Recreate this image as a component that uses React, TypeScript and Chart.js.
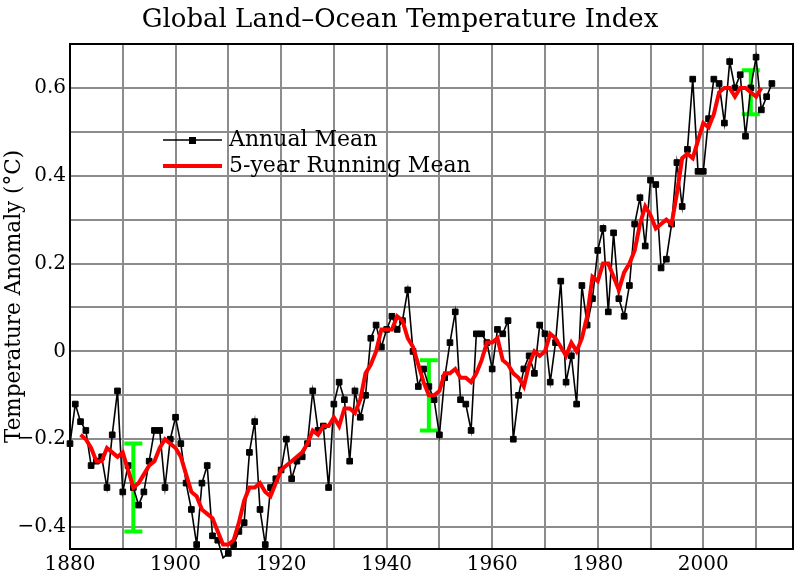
import React, { useEffect, useRef } from "react";
import { Chart, registerables } from "chart.js";

Chart.register(...registerables);

const FONT = "'DejaVu Serif', serif";

const chartTitle = "Global Land\u2013Ocean Temperature Index";
const yAxisTitle = "Temperature Anomaly (\u00b0C)";
const legendLabels = ["Annual Mean", "5-year Running Mean"];

const annualYears = [
  1880, 1881, 1882, 1883, 1884, 1885, 1886, 1887, 1888, 1889,
  1890, 1891, 1892, 1893, 1894, 1895, 1896, 1897, 1898, 1899,
  1900, 1901, 1902, 1903, 1904, 1905, 1906, 1907, 1908, 1909,
  1910, 1911, 1912, 1913, 1914, 1915, 1916, 1917, 1918, 1919,
  1920, 1921, 1922, 1923, 1924, 1925, 1926, 1927, 1928, 1929,
  1930, 1931, 1932, 1933, 1934, 1935, 1936, 1937, 1938, 1939,
  1940, 1941, 1942, 1943, 1944, 1945, 1946, 1947, 1948, 1949,
  1950, 1951, 1952, 1953, 1954, 1955, 1956, 1957, 1958, 1959,
  1960, 1961, 1962, 1963, 1964, 1965, 1966, 1967, 1968, 1969,
  1970, 1971, 1972, 1973, 1974, 1975, 1976, 1977, 1978, 1979,
  1980, 1981, 1982, 1983, 1984, 1985, 1986, 1987, 1988, 1989,
  1990, 1991, 1992, 1993, 1994, 1995, 1996, 1997, 1998, 1999,
  2000, 2001, 2002, 2003, 2004, 2005, 2006, 2007, 2008, 2009,
  2010, 2011, 2012, 2013,
];

const annualMean = [
  -0.21, -0.12, -0.16, -0.18, -0.26, -0.25, -0.24, -0.31, -0.19, -0.09,
  -0.32, -0.26, -0.31, -0.35, -0.32, -0.25, -0.18, -0.18, -0.31, -0.20,
  -0.15, -0.21, -0.30, -0.36, -0.44, -0.30, -0.26, -0.42, -0.43, -0.47,
  -0.46, -0.44, -0.41, -0.39, -0.23, -0.16, -0.36, -0.44, -0.31, -0.29,
  -0.27, -0.20, -0.29, -0.25, -0.24, -0.21, -0.09, -0.18, -0.17, -0.31,
  -0.12, -0.07, -0.11, -0.25, -0.09, -0.15, -0.10, 0.03, 0.06, 0.01,
  0.05, 0.08, 0.05, 0.07, 0.14, 0.00, -0.08, -0.04, -0.08, -0.11,
  -0.19, -0.06, 0.02, 0.09, -0.11, -0.12, -0.18, 0.04, 0.04, 0.02,
  -0.04, 0.05, 0.04, 0.07, -0.20, -0.10, -0.04, -0.01, -0.05, 0.06,
  0.04, -0.07, 0.02, 0.16, -0.07, -0.01, -0.12, 0.15, 0.06, 0.12,
  0.23, 0.28, 0.09, 0.27, 0.12, 0.08, 0.15, 0.29, 0.35, 0.24,
  0.39, 0.38, 0.19, 0.21, 0.29, 0.43, 0.33, 0.46, 0.62, 0.41,
  0.41, 0.53, 0.62, 0.61, 0.52, 0.66, 0.60, 0.63, 0.49, 0.60,
  0.67, 0.55, 0.58, 0.61,
];

const runningYears = [
  1882, 1883, 1884, 1885, 1886, 1887, 1888, 1889,
  1890, 1891, 1892, 1893, 1894, 1895, 1896, 1897, 1898, 1899,
  1900, 1901, 1902, 1903, 1904, 1905, 1906, 1907, 1908, 1909,
  1910, 1911, 1912, 1913, 1914, 1915, 1916, 1917, 1918, 1919,
  1920, 1921, 1922, 1923, 1924, 1925, 1926, 1927, 1928, 1929,
  1930, 1931, 1932, 1933, 1934, 1935, 1936, 1937, 1938, 1939,
  1940, 1941, 1942, 1943, 1944, 1945, 1946, 1947, 1948, 1949,
  1950, 1951, 1952, 1953, 1954, 1955, 1956, 1957, 1958, 1959,
  1960, 1961, 1962, 1963, 1964, 1965, 1966, 1967, 1968, 1969,
  1970, 1971, 1972, 1973, 1974, 1975, 1976, 1977, 1978, 1979,
  1980, 1981, 1982, 1983, 1984, 1985, 1986, 1987, 1988, 1989,
  1990, 1991, 1992, 1993, 1994, 1995, 1996, 1997, 1998, 1999,
  2000, 2001, 2002, 2003, 2004, 2005, 2006, 2007, 2008, 2009,
  2010, 2011,
];

const runningMean = [
  -0.19, -0.20, -0.22, -0.25, -0.25, -0.22, -0.23, -0.24,
  -0.23, -0.27, -0.31, -0.30, -0.28, -0.26, -0.25, -0.22, -0.20, -0.21,
  -0.22, -0.24, -0.28, -0.32, -0.33, -0.36, -0.37, -0.38, -0.41, -0.44,
  -0.44, -0.43, -0.39, -0.34, -0.31, -0.31, -0.30, -0.32, -0.33, -0.30,
  -0.27, -0.26, -0.25, -0.24, -0.23, -0.21, -0.18, -0.19, -0.17, -0.17,
  -0.15, -0.17, -0.13, -0.13, -0.14, -0.11, -0.05, -0.03, 0.00, 0.05,
  0.05, 0.05, 0.08, 0.07, 0.03, 0.01, -0.03, -0.07, -0.10, -0.10,
  -0.09, -0.05, -0.05, -0.04, -0.06, -0.06, -0.07, -0.05, -0.02, 0.02,
  0.02, 0.03, -0.02, -0.03, -0.05, -0.06, -0.08, -0.03, 0.00, -0.01,
  0.00, 0.04, 0.03, 0.01, -0.01, 0.02, 0.00, 0.03, 0.08, 0.17,
  0.16, 0.20, 0.20, 0.17, 0.14, 0.18, 0.20, 0.23, 0.29, 0.33,
  0.31, 0.28, 0.29, 0.30, 0.29, 0.36, 0.44, 0.45, 0.44, 0.48,
  0.52, 0.51, 0.54, 0.59, 0.60, 0.60, 0.58, 0.60, 0.60, 0.59,
  0.58, 0.60,
];

const uncertaintyYears = [1892, 1948, 2009];
const uncertaintyLow = [-0.41, -0.18, 0.54];
const uncertaintyHigh = [-0.21, -0.02, 0.64];

const xGridValues = [1880, 1890, 1900, 1910, 1920, 1930, 1940, 1950, 1960, 1970, 1980, 1990, 2000, 2010];
const xLabelValues = [1880, 1900, 1920, 1940, 1960, 1980, 2000];
const yGridValues = [-0.4, -0.3, -0.2, -0.1, 0, 0.1, 0.2, 0.3, 0.4, 0.5, 0.6, 0.7];
const yLabelValues = [-0.4, -0.2, 0, 0.2, 0.4, 0.6];

const fmtY = (v: number) => {
  const hit = yLabelValues.find((t) => Math.abs(t - v) < 1e-6);
  if (hit === undefined) return "";
  if (hit === 0) return "0";
  const s = Math.abs(hit).toFixed(1);
  return hit < 0 ? "\u2212" + s : s;
};

const fmtX = (v: number) => {
  const hit = xLabelValues.find((t) => Math.abs(t - v) < 1e-6);
  return hit === undefined ? "" : String(hit);
};

const decorPlugin = {
  id: "decor",
  beforeDatasetsDraw(chart: any) {
    const { ctx, scales } = chart;
    const xs = scales.x;
    const ys = scales.y;
    ctx.save();
    ctx.strokeStyle = "#00ff00";
    ctx.lineWidth = 4;
    ctx.lineCap = "butt";
    for (let i = 0; i < uncertaintyYears.length; i++) {
      const x = xs.getPixelForValue(uncertaintyYears[i]);
      const y1 = ys.getPixelForValue(uncertaintyLow[i]);
      const y2 = ys.getPixelForValue(uncertaintyHigh[i]);
      ctx.beginPath();
      ctx.moveTo(x, y1);
      ctx.lineTo(x, y2);
      ctx.moveTo(x - 9, y1);
      ctx.lineTo(x + 9, y1);
      ctx.moveTo(x - 9, y2);
      ctx.lineTo(x + 9, y2);
      ctx.stroke();
    }
    ctx.restore();
  },
  afterDraw(chart: any) {
    const { ctx, chartArea } = chart;
    ctx.save();
    ctx.strokeStyle = "#000";
    ctx.lineWidth = 2;
    ctx.strokeRect(chartArea.left, chartArea.top, chartArea.right - chartArea.left, chartArea.bottom - chartArea.top);
    ctx.fillStyle = "#000";
    ctx.font = "26px " + FONT;
    ctx.textAlign = "center";
    ctx.textBaseline = "alphabetic";
    ctx.fillText(chartTitle, 400, 27);
    ctx.font = "22px " + FONT;
    ctx.textAlign = "left";
    ctx.textBaseline = "middle";
    ctx.strokeStyle = "#000";
    ctx.lineWidth = 1.5;
    ctx.beginPath();
    ctx.moveTo(163, 140);
    ctx.lineTo(222, 140);
    ctx.stroke();
    ctx.fillRect(189, 137, 7, 7);
    ctx.strokeStyle = "#ff0000";
    ctx.lineWidth = 4;
    ctx.beginPath();
    ctx.moveTo(163, 166);
    ctx.lineTo(222, 166);
    ctx.stroke();
    ctx.fillStyle = "#000";
    ctx.fillText(legendLabels[0], 229, 140);
    ctx.fillText(legendLabels[1], 229, 166);
    ctx.restore();
  },
};

export default function App() {
  const ref = useRef<HTMLCanvasElement | null>(null);
  useEffect(() => {
    if (!ref.current) return;
    Chart.defaults.font.family = FONT;
    const chart = new Chart(ref.current, {
      type: "line",
      data: {
        datasets: [
          {
            label: legendLabels[1],
            data: runningYears.map((x, i) => ({ x, y: runningMean[i] })),
            borderColor: "#ff0000",
            borderWidth: 4,
            pointRadius: 0,
            fill: false,
            tension: 0,
            order: 0,
          },
          {
            label: legendLabels[0],
            data: annualYears.map((x, i) => ({ x, y: annualMean[i] })),
            borderColor: "#000",
            backgroundColor: "#000",
            borderWidth: 1.6,
            pointStyle: "rect",
            pointRadius: 4,
            pointBorderWidth: 1,
            pointBackgroundColor: "#000",
            pointBorderColor: "#000",
            fill: false,
            tension: 0,
            clip: false,
            order: 1,
          },
        ],
      },
      options: {
        animation: false,
        responsive: false,
        maintainAspectRatio: false,
        layout: { padding: { top: 44, right: 7, left: 0, bottom: 0 } },
        plugins: {
          legend: { display: false },
          title: { display: false },
          tooltip: { enabled: false },
        },
        scales: {
          x: {
            type: "linear",
            min: 1880,
            max: 2017,
            afterBuildTicks: (s: any) => {
              s.ticks = xGridValues.map((v) => ({ value: v }));
            },
            afterFit: (s: any) => {
              s.height = 27;
            },
            ticks: {
              autoSkip: false,
              maxRotation: 0,
              minRotation: 0,
              padding: 4,
              color: "#000",
              font: { family: FONT, size: 20 },
              callback: (v: any) => fmtX(Number(v)),
            },
            grid: { color: "#8c8c8c", lineWidth: 2, drawTicks: false },
            border: { display: true, color: "#000", width: 2 },
          },
          y: {
            type: "linear",
            min: -0.45,
            max: 0.7,
            afterBuildTicks: (s: any) => {
              s.ticks = yGridValues.map((v) => ({ value: v }));
            },
            afterFit: (s: any) => {
              s.width = 70;
            },
            ticks: {
              autoSkip: false,
              padding: 4,
              color: "#000",
              font: { family: FONT, size: 20 },
              callback: (v: any) => fmtY(Number(v)),
            },
            title: {
              display: true,
              text: yAxisTitle,
              color: "#000",
              font: { family: FONT, size: 21.5 },
              padding: { top: 2, bottom: 0 },
            },
            grid: { color: "#8c8c8c", lineWidth: 2, drawTicks: false },
            border: { display: true, color: "#000", width: 2 },
          },
        },
      },
      plugins: [decorPlugin],
    });
    return () => chart.destroy();
  }, []);
  return (
    <div style={{ position: "absolute", left: 0, top: 0, width: 800, height: 576, background: "#fff" }}>
      <canvas ref={ref} width={800} height={576} style={{ width: 800, height: 576, display: "block" }} />
    </div>
  );
}
